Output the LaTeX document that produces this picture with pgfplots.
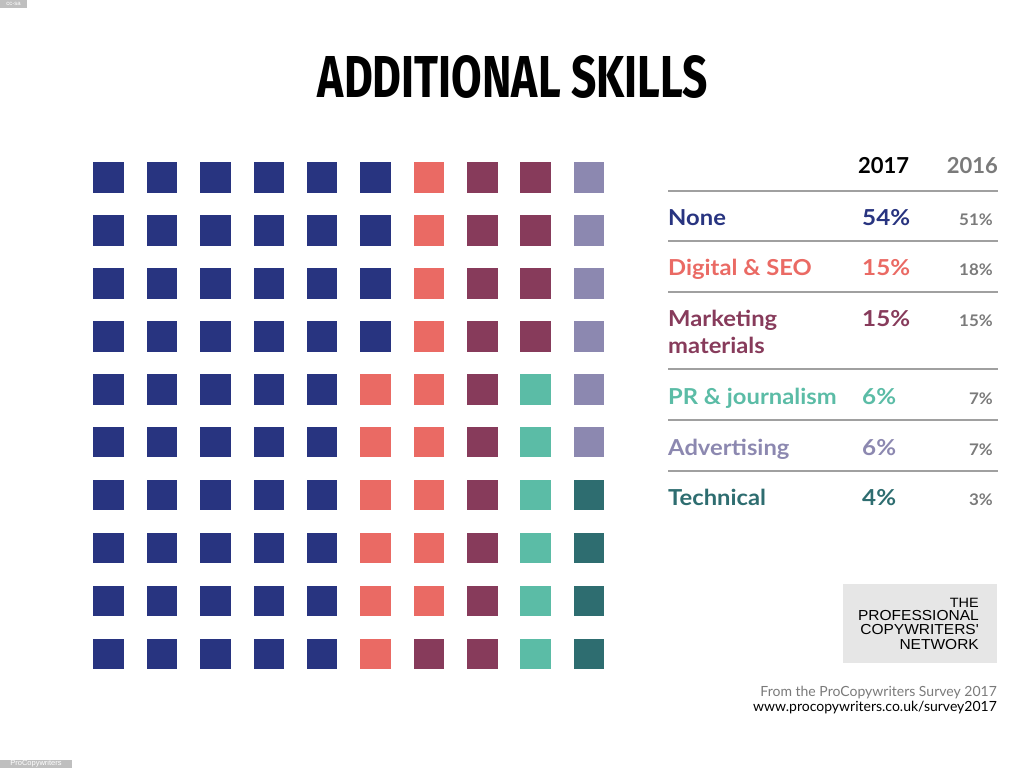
\documentclass[border=0pt]{standalone}
\usepackage{fontspec}
\setmainfont{Lato}
\newfontfamily\titlefont{Fira Sans}
\newfontfamily\logofont{Liberation Sans}
\usepackage{pgfplots}
\pgfplotsset{compat=1.18}
\definecolor{cNavy}{HTML}{283480}
\definecolor{cSalmon}{HTML}{EA6A64}
\definecolor{cMaroon}{HTML}{873B5B}
\definecolor{cLTeal}{HTML}{5BBCA6}
\definecolor{cLav}{HTML}{8C88B0}
\definecolor{cDTeal}{HTML}{2E6D70}
\definecolor{cGrayTxt}{HTML}{7A7A7A}
\definecolor{cRule}{HTML}{A0A0A0}
\definecolor{cLogo}{HTML}{E6E6E6}
\newcommand\lbl[3]{\node[anchor=base west, inner sep=0pt, text=#1, xscale=1.08] at (668,#2) {\fontsize{22}{26}\selectfont\bfseries #3};}
\newcommand\pa[3]{\node[anchor=base west, inner sep=0pt, text=#1, xscale=1.1] at (862,#2) {\fontsize{22}{26}\selectfont\bfseries #3};}
\newcommand\pb[2]{\node[anchor=base east, inner sep=0pt, text=cGrayTxt, xscale=1.06] at (993,#1) {\fontsize{16}{18}\selectfont\bfseries #2};}
\newcommand\logoline[3]{\node[anchor=base east, inner sep=0pt, xscale=1.07] at (979,#1) {\logofont\fontsize{#2}{14}\selectfont #3};}
\pgfplotsset{waffle/.style={only marks, mark=square*, mark size=14.75pt, color=#1, mark options={draw=#1, fill=#1, line width=0pt}}}
\begin{document}
\begin{tikzpicture}
\path[use as bounding box] (0pt,0pt) rectangle (1024pt,-768pt);
\begin{axis}[at={(82pt,-151pt)}, anchor=north west, scale only axis,
  width=533.7pt, height=529.5pt, xmin=0.5, xmax=10.5, ymin=0.5, ymax=10.5,
  y dir=reverse, hide axis, clip=false]
\addplot[waffle=cNavy] coordinates {
(1,1)(1,2)(1,3)(1,4)(1,5)(1,6)(1,7)(1,8)(1,9)(1,10)
(2,1)(2,2)(2,3)(2,4)(2,5)(2,6)(2,7)(2,8)(2,9)(2,10)
(3,1)(3,2)(3,3)(3,4)(3,5)(3,6)(3,7)(3,8)(3,9)(3,10)
(4,1)(4,2)(4,3)(4,4)(4,5)(4,6)(4,7)(4,8)(4,9)(4,10)
(5,1)(5,2)(5,3)(5,4)(5,5)(5,6)(5,7)(5,8)(5,9)(5,10)
(6,1)(6,2)(6,3)(6,4)};
\addplot[waffle=cSalmon] coordinates {
(6,5)(6,6)(6,7)(6,8)(6,9)(6,10)
(7,1)(7,2)(7,3)(7,4)(7,5)(7,6)(7,7)(7,8)(7,9)};
\addplot[waffle=cMaroon] coordinates {
(7,10)
(8,1)(8,2)(8,3)(8,4)(8,5)(8,6)(8,7)(8,8)(8,9)(8,10)
(9,1)(9,2)(9,3)(9,4)};
\addplot[waffle=cLTeal] coordinates {
(9,5)(9,6)(9,7)(9,8)(9,9)(9,10)};
\addplot[waffle=cLav] coordinates {
(10,1)(10,2)(10,3)(10,4)(10,5)(10,6)};
\addplot[waffle=cDTeal] coordinates {
(10,7)(10,8)(10,9)(10,10)};
\end{axis}
\begin{scope}[x=1pt,y=-1pt]
% title
\node[anchor=base, inner sep=0pt] at (513,97) {\resizebox{390pt}{42pt}{\titlefont\bfseries ADDITIONAL SKILLS}};
% header
\node[anchor=base west, inner sep=0pt] at (858,173) {\fontsize{22}{24}\selectfont\bfseries 2017};
\node[anchor=base east, inner sep=0pt, text=cGrayTxt] at (998,173) {\fontsize{22}{24}\selectfont\bfseries 2016};
% rules
\foreach \yy in {191,241,292,369,420,471} {\draw[cRule, line width=1.2pt] (668,\yy) -- (998,\yy);}
% rows
\lbl{cNavy}{225}{None}
\lbl{cSalmon}{275}{Digital \& SEO}
\lbl{cMaroon}{326}{Marketing}
\lbl{cMaroon}{353}{materials}
\lbl{cLTeal}{404}{PR \& journalism}
\lbl{cLav}{455}{Advertising}
\lbl{cDTeal}{505}{Technical}
\pa{cNavy}{225}{54\%}
\pa{cSalmon}{275}{15\%}
\pa{cMaroon}{326}{15\%}
\pa{cLTeal}{404}{6\%}
\pa{cLav}{455}{6\%}
\pa{cDTeal}{505}{4\%}
\pb{225}{51\%}
\pb{275}{18\%}
\pb{326}{15\%}
\pb{404}{7\%}
\pb{455}{7\%}
\pb{505}{3\%}
% logo
\fill[cLogo] (843,584) rectangle (997,663);
\logoline{607.7}{13.5}{THE}
\logoline{620.5}{14.5}{PROFESSIONAL}
\logoline{634.5}{14.5}{COPYWRITERS'}
\logoline{649}{14.5}{NETWORK}
% footer
\node[anchor=base east, inner sep=0pt, text=cGrayTxt] at (997,696.7) {\fontsize{14}{16}\selectfont From the ProCopywriters Survey 2017};
\node[anchor=base east, inner sep=0pt] at (997,711.7) {\fontsize{14}{16}\selectfont www.procopywriters.co.uk/survey2017};
% watermarks
\fill[black!25] (0,0) rectangle (27,8);
\node[inner sep=0pt, text=white] at (13.5,4) {\logofont\fontsize{6}{6}\selectfont cc-sa};
\fill[black!25] (0,760) rectangle (72,768);
\node[inner sep=0pt, text=white] at (36,764) {\logofont\fontsize{7.5}{7.5}\selectfont ProCopywriters};
\end{scope}
\end{tikzpicture}
\end{document}
